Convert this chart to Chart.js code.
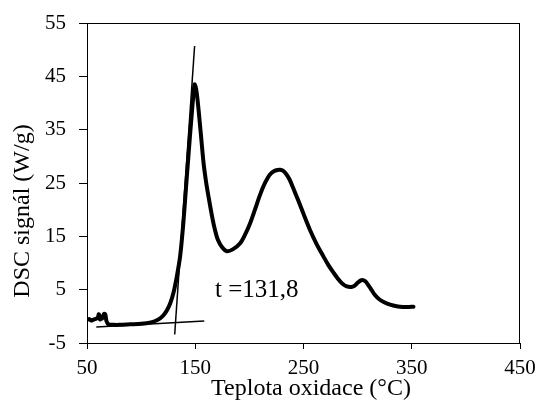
<!DOCTYPE html>
<html>
<head>
<meta charset="utf-8">
<script src="https://cdn.jsdelivr.net/npm/chart.js"></script>
<style>
  html, body { margin: 0; padding: 0; background: #fff; }
  #wrap { width: 539px; height: 401px; }
</style>
</head>
<body>
<div id="wrap"><canvas id="dscChart" width="539" height="401"></canvas></div>
<script>
// teplota (°C) a DSC signal (W/g)
const teplota = [50, 52, 54, 56, 58, 60, 61, 62, 63, 64, 65, 66, 67, 68, 70, 75, 80, 90, 100, 105, 110, 115, 118, 121, 124, 127, 130, 133, 136, 139, 142, 145, 147, 148.5, 149.5, 151.5, 154.8, 157.7, 160, 162.3, 165.4, 168, 171, 175, 179.3, 185, 191.5, 196, 200.8, 205, 209, 213, 217, 220, 223, 226, 228.5, 231, 234, 237, 240, 243, 247, 251, 256, 262, 268.5, 273, 277.7, 282, 286, 290, 294, 297, 300, 303, 305, 307.5, 310, 313, 316, 320, 325, 330, 336, 342, 347, 351.6];
const signal = [-0.7, -0.5, -0.8, -0.6, -0.5, -0.2, 0.4, -0.6, -0.3, -0.4, 0.2, 0.5, 0.3, -0.9, -1.5, -1.6, -1.6, -1.5, -1.4, -1.3, -1.1, -0.7, -0.3, 0.3, 1.2, 2.5, 4.5, 7.5, 11.2, 17.5, 25.6, 33.5, 38.5, 42, 43.5, 41.7, 35, 28.7, 25.2, 22.4, 18.9, 16.4, 14.3, 12.9, 12.2, 12.6, 13.7, 15.3, 17.5, 19.9, 22.3, 24.4, 26.0, 26.8, 27.25, 27.45, 27.5, 27.3, 26.7, 25.7, 24.3, 22.8, 20.8, 18.7, 16.2, 13.6, 11.2, 9.6, 8.2, 7.0, 6.1, 5.6, 5.5, 5.7, 6.3, 6.75, 6.8, 6.5, 5.8, 4.9, 4.0, 3.2, 2.6, 2.2, 1.9, 1.75, 1.75, 1.8];

// tecny pro odecet onsetu
const tecnaStrmaX = [131.0, 149.4];
const tecnaStrmaY = [-3.4, 50.7];
const tecnaBaseX = [58.6, 158.3];
const tecnaBaseY = [-2.0, -0.87];

const xTicks = [50, 150, 250, 350, 450];
const yTicks = [-5, 5, 15, 25, 35, 45, 55];
const popisek = 't =131,8';

const serif = '"Liberation Serif", "Times New Roman", serif';

const toPts = (xs, ys) => xs.map((x, i) => ({x: x, y: ys[i]}));

// ramecek + popisky os + text t
const extras = {
  id: 'extras',
  afterDraw(chart) {
    const {ctx, chartArea: a} = chart;
    ctx.save();
    ctx.strokeStyle = '#000';
    ctx.lineWidth = 1;
    ctx.strokeRect(a.left + 0.5, a.top + 0.5, a.right - a.left - 1, a.bottom - a.top);
    ctx.fillStyle = '#000';
    ctx.font = '25px ' + serif;
    ctx.textAlign = 'left';
    ctx.textBaseline = 'alphabetic';
    ctx.fillText(popisek, 215, 297);
    ctx.font = '24px ' + serif;
    ctx.textAlign = 'center';
    ctx.textBaseline = 'middle';
    ctx.fillText('Teplota oxidace (°C)', 311, 389);
    ctx.translate(23, 211);
    ctx.rotate(-Math.PI / 2);
    ctx.fillText('DSC signál (W/g)', 0, 0);
    ctx.restore();
  },
};

new Chart(document.getElementById('dscChart'), {
  type: 'scatter',
  data: {
    datasets: [
      {
        data: toPts(teplota, signal),
        showLine: true,
        borderColor: '#000',
        borderWidth: 4,
        pointRadius: 0,
        tension: 0.3,
        borderJoinStyle: 'round',
        borderCapStyle: 'round',
      },
      {
        data: toPts(tecnaStrmaX, tecnaStrmaY),
        showLine: true,
        borderColor: '#000',
        borderWidth: 1.5,
        pointRadius: 0,
      },
      {
        data: toPts(tecnaBaseX, tecnaBaseY),
        showLine: true,
        borderColor: '#000',
        borderWidth: 1.5,
        pointRadius: 0,
      },
    ],
  },
  options: {
    responsive: false,
    animation: false,
    plugins: {
      legend: {display: false},
      tooltip: {enabled: false},
    },
    layout: {
      padding: {left: 0, right: 19, top: 23, bottom: 0},
    },
    scales: {
      x: {
        type: 'linear',
        min: 50,
        max: 450,
        afterBuildTicks: s => { s.ticks = xTicks.map(v => ({value: v})); },
        afterFit: s => { s.height = 58; s.paddingLeft = 0; s.paddingRight = 0; },
        grid: {drawOnChartArea: false, tickLength: 6, color: '#000'},
        border: {color: '#000'},
        ticks: {
          color: '#000',
          font: {family: serif, size: 21},
          padding: 7,
          maxRotation: 0,
        },
      },
      y: {
        type: 'linear',
        min: -5,
        max: 55,
        afterBuildTicks: s => { s.ticks = yTicks.map(v => ({value: v})); },
        afterFit: s => { s.width = 87; s.paddingTop = 0; s.paddingBottom = 0; },
        grid: {drawOnChartArea: false, tickLength: 8, color: '#000'},
        border: {color: '#000'},
        ticks: {
          color: '#000',
          font: {family: serif, size: 21},
          padding: 13,
        },
      },
    },
  },
  plugins: [extras],
});
</script>
</body>
</html>
